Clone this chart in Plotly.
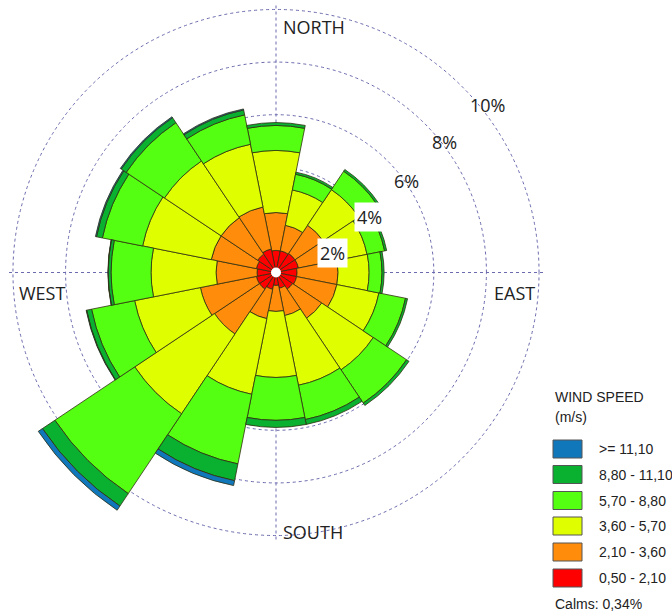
import plotly.graph_objects as go

W, H = 672, 614

directions = [0, 22.5, 45, 67.5, 90, 112.5, 135, 157.5,
              180, 202.5, 225, 247.5, 270, 292.5, 315, 337.5]

speed_bins = ["0,50 - 2,10", "2,10 - 3,60", "3,60 - 5,70",
              "5,70 - 8,80", "8,80 - 11,10", ">= 11,10"]
bin_colors = ["#FF0000", "#FF8C0A", "#DFFF00", "#55FF11", "#0AB02F", "#1177BB"]

# frequency (%) per direction for each speed class
freq_050_210 = [0.84, 0.84, 0.87, 0.87, 0.80, 0.80, 0.76, 0.61,
                0.49, 0.65, 0.76, 0.76, 0.72, 0.76, 0.84, 0.91]
freq_210_360 = [1.44, 0.99, 1.29, 1.41, 1.56, 1.56, 1.33, 1.06,
                0.99, 1.14, 2.05, 2.17, 1.56, 1.75, 1.67, 1.63]
freq_360_570 = [2.36, 1.37, 1.63, 1.25, 1.18, 1.63, 2.36, 2.70,
                2.51, 2.93, 3.65, 2.55, 2.47, 2.66, 2.59, 2.43]
freq_570_880 = [0.95, 0.61, 0.84, 0.68, 0.49, 1.03, 1.52, 1.33,
                1.63, 2.70, 3.65, 1.67, 1.52, 1.56, 1.75, 1.14]
freq_880_1110 = [0.11, 0.08, 0.08, 0.08, 0.08, 0.08, 0.11, 0.19,
                 0.27, 0.65, 0.57, 0.19, 0.11, 0.23, 0.23, 0.19]
freq_ge_1110 = [0.00, 0.00, 0.00, 0.00, 0.00, 0.00, 0.00, 0.00,
                0.00, 0.19, 0.19, 0.02, 0.01, 0.04, 0.04, 0.04]
series = [freq_050_210, freq_210_360, freq_360_570,
          freq_570_880, freq_880_1110, freq_ge_1110]

ring_ticks = [2, 4, 6, 8, 10]
ring_labels = ["2%", "4%", "6%", "8%", "10%"]
compass = ["NORTH", "EAST", "SOUTH", "WEST"]
calms_text = "Calms: 0,34%"

fig = go.Figure()
for name, col, vals in zip(speed_bins, bin_colors, series):
    fig.add_trace(go.Barpolar(
        r=vals, theta=directions, width=[22.5] * len(directions),
        name=name, marker=dict(color=col, line=dict(color="#2E2E10", width=0.8)),
        showlegend=False))

# calm centre circle (also disables clipping so long bars can extend past 10%)
fig.add_trace(go.Scatterpolar(
    r=[0], theta=[0], mode="markers", cliponaxis=False, showlegend=False,
    marker=dict(color="white", size=10, line=dict(width=0))))

cx, cy = 276, 272.5
rmax = 10.2
rpx = 268.3
grid_col = "#6B6BAE"
fig.update_layout(
    width=W, height=H, margin=dict(l=0, r=0, t=0, b=0),
    paper_bgcolor="white", plot_bgcolor="white",
    polar=dict(
        domain=dict(x=[(cx - rpx) / W, (cx + rpx) / W],
                    y=[1 - (cy + rpx) / H, 1 - (cy - rpx) / H]),
        bgcolor="rgba(0,0,0,0)",
        bargap=0,
        radialaxis=dict(range=[0, rmax], tickvals=ring_ticks, showticklabels=False,
                        ticks="", showline=False, gridcolor=grid_col,
                        griddash="dot", gridwidth=1),
        angularaxis=dict(rotation=90, direction="clockwise", tickvals=[0, 90, 180, 270],
                         showticklabels=False, ticks="", showline=False,
                         gridcolor=grid_col, griddash="dot", gridwidth=1),
    ),
    font=dict(family="Open Sans", color="#222"),
)

ann = []
def px(x, y):
    return x / W, 1 - y / H

# compass labels
for txt, (x, y, xa) in zip(compass, [(281, 27, "left"), (537, 293, "right"),
                                      (281, 532, "left"), (17, 293, "left")]):
    ax, ay = px(x, y)
    ann.append(dict(x=ax, y=ay, xref="paper", yref="paper", text=txt, showarrow=False,
                    xanchor=xa, yanchor="middle",
                    font=dict(family="Open Sans", size=18, color="#222")))

# ring labels
ring_pos = [(332, 253, True), (369, 217, True), (406, 181, False),
            (444, 142, False), (487, 105, False)]
for txt, (x, y, box) in zip(ring_labels, ring_pos):
    ax, ay = px(x, y)
    ann.append(dict(x=ax, y=ay, xref="paper", yref="paper", text=txt, showarrow=False,
                    xanchor="center", yanchor="middle",
                    bgcolor="white" if box else None, borderpad=2,
                    font=dict(family="Open Sans", size=18, color="#222")))

# legend
leg_font = dict(family="Liberation Sans", size=14, color="#222")
for txt, y in [("WIND SPEED", 397), ("(m/s)", 417)]:
    ax, ay = px(553, y)
    ann.append(dict(x=ax, y=ay, xref="paper", yref="paper", text=txt, showarrow=False,
                    xanchor="left", yanchor="middle", font=leg_font))
shapes = []
row_y = [578, 552, 526, 500.5, 474.5, 449]
for name, col, y in zip(speed_bins, bin_colors, row_y):
    x0, y0 = px(553, y + 9)
    x1, y1 = px(582, y - 9)
    shapes.append(dict(type="rect", xref="paper", yref="paper", x0=x0, y0=y0, x1=x1, y1=y1,
                       fillcolor=col, line=dict(color="#555", width=1)))
    ax, ay = px(597, y)
    ann.append(dict(x=ax, y=ay, xref="paper", yref="paper", text=name.replace(">", "&gt;"),
                    showarrow=False, xanchor="left", yanchor="middle", font=leg_font))
ax, ay = px(553, 604)
ann.append(dict(x=ax, y=ay, xref="paper", yref="paper", text=calms_text, showarrow=False,
                xanchor="left", yanchor="middle", font=leg_font))

fig.update_layout(annotations=ann, shapes=shapes)

# let the longest bars run past the 10 % ring, as in the original rose
unclip_js = """
var gd = document.getElementById('{plot_id}');
function unclip() {
  gd.querySelectorAll('.polarlayer [clip-path], .polarlayer .frontplot').forEach(function(e) {
    e.removeAttribute('clip-path');
  });
}
unclip();
gd.on('plotly_afterplot', unclip);
"""
fig.write_html("out.html", post_script=unclip_js)
